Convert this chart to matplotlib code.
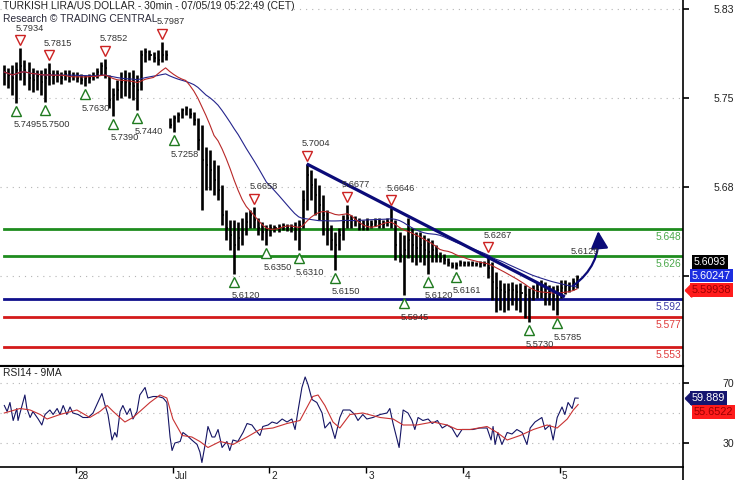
##############
# Librairies #
##############

import numpy as np
import pandas as pd
import matplotlib
matplotlib.use("Agg")
import matplotlib.pyplot as plt
from matplotlib.transforms import blended_transform_factory, ScaledTranslation
from matplotlib.patches import FancyArrowPatch
from matplotlib.lines import Line2D
from matplotlib.path import Path

plt.rcParams['font.family'] = ['Liberation Sans', 'DejaVu Sans']


########
# Data #
########
# 1 bar = 1 hour, index 0 = first bar on the chart (27/06 morning)
high = [
    5.7800, 5.7776, 5.7800, 5.7824, 5.7934, 5.7840, 5.7824, 5.7776, 5.7760, 5.7760,
    5.7776, 5.7815, 5.7760, 5.7760, 5.7744, 5.7760, 5.7760, 5.7744, 5.7744, 5.7728,
    5.7720, 5.7728, 5.7744, 5.7776, 5.7824, 5.7852, 5.7720, 5.7615, 5.7680, 5.7744,
    5.7760, 5.7744, 5.7760, 5.7720, 5.7921, 5.7937, 5.7921, 5.7905, 5.7921, 5.7987,
    5.7921, 5.7374, 5.7398, 5.7422, 5.7454, 5.7470, 5.7454, 5.7422, 5.7374, 5.7317,
    5.7140, 5.7116, 5.7035, 5.6995, 5.6834, 5.6633, 5.6552, 5.6552, 5.6536, 5.6569,
    5.6617, 5.6633, 5.6658, 5.6569, 5.6536, 5.6512, 5.6520, 5.6512, 5.6520, 5.6528,
    5.6520, 5.6520, 5.6536, 5.6552, 5.6794, 5.7004, 5.6955, 5.6891, 5.6834, 5.6754,
    5.6633, 5.6512, 5.6456, 5.6488, 5.6593, 5.6677, 5.6593, 5.6585, 5.6569, 5.6552,
    5.6569, 5.6552, 5.6569, 5.6569, 5.6552, 5.6569, 5.6646, 5.6552, 5.6456, 5.6432,
    5.6569, 5.6488, 5.6456, 5.6456, 5.6432, 5.6408, 5.6391, 5.6351, 5.6295, 5.6279,
    5.6247, 5.6214, 5.6214, 5.6230, 5.6222, 5.6222, 5.6222, 5.6214, 5.6222, 5.6222,
    5.6267, 5.6214, 5.6134, 5.6069, 5.6045, 5.6045, 5.6053, 5.6037, 5.6045, 5.6029,
    5.6005, 5.6029, 5.6053, 5.6069, 5.6053, 5.6029, 5.6021, 5.6029, 5.6069, 5.6069,
    5.6053, 5.6086, 5.6110,
]
low = [
    5.7639, 5.7615, 5.7559, 5.7495, 5.7680, 5.7639, 5.7599, 5.7583, 5.7599, 5.7559,
    5.7500, 5.7639, 5.7647, 5.7663, 5.7647, 5.7680, 5.7663, 5.7680, 5.7663, 5.7647,
    5.7630, 5.7655, 5.7680, 5.7696, 5.7720, 5.7696, 5.7454, 5.7390, 5.7518, 5.7535,
    5.7551, 5.7535, 5.7518, 5.7440, 5.7599, 5.7824, 5.7840, 5.7824, 5.7800, 5.7824,
    5.7840, 5.7293, 5.7258, 5.7341, 5.7374, 5.7398, 5.7374, 5.7317, 5.7116, 5.6633,
    5.6794, 5.6794, 5.6754, 5.6713, 5.6512, 5.6391, 5.6311, 5.6120, 5.6311, 5.6351,
    5.6432, 5.6488, 5.6488, 5.6432, 5.6391, 5.6350, 5.6424, 5.6456, 5.6456, 5.6472,
    5.6464, 5.6456, 5.6391, 5.6310, 5.6488, 5.6633, 5.6713, 5.6593, 5.6552, 5.6432,
    5.6351, 5.6311, 5.6150, 5.6311, 5.6391, 5.6488, 5.6488, 5.6504, 5.6472, 5.6472,
    5.6472, 5.6488, 5.6504, 5.6488, 5.6488, 5.6504, 5.6488, 5.6230, 5.6214, 5.5945,
    5.6247, 5.6214, 5.6190, 5.6214, 5.6190, 5.6120, 5.6214, 5.6214, 5.6214, 5.6198,
    5.6182, 5.6166, 5.6161, 5.6182, 5.6182, 5.6182, 5.6182, 5.6182, 5.6174, 5.6182,
    5.6086, 5.5908, 5.5812, 5.5828, 5.5812, 5.5828, 5.5868, 5.5828, 5.5812, 5.5764,
    5.5730, 5.5908, 5.5924, 5.5924, 5.5868, 5.5868, 5.5828, 5.5785, 5.5924, 5.5957,
    5.5973, 5.5989, 5.6005,
]
close = [
    5.7744, 5.7720, 5.7696, 5.7760, 5.7792, 5.7760, 5.7696, 5.7680, 5.7712, 5.7663,
    5.7696, 5.7728, 5.7712, 5.7728, 5.7696, 5.7728, 5.7712, 5.7712, 5.7696, 5.7680,
    5.7696, 5.7696, 5.7712, 5.7744, 5.7792, 5.7776, 5.7518, 5.7559, 5.7599, 5.7663,
    5.7663, 5.7647, 5.7631, 5.7599, 5.7881, 5.7905, 5.7881, 5.7857, 5.7840, 5.7881,
    5.7881, 5.7317, 5.7374, 5.7398, 5.7438, 5.7454, 5.7406, 5.7357, 5.7196, 5.7035,
    5.6995, 5.6955, 5.6875, 5.6794, 5.6593, 5.6488, 5.6432, 5.6351, 5.6408, 5.6472,
    5.6536, 5.6593, 5.6552, 5.6488, 5.6456, 5.6472, 5.6488, 5.6488, 5.6496, 5.6504,
    5.6496, 5.6488, 5.6472, 5.6512, 5.6713, 5.6915, 5.6834, 5.6754, 5.6673, 5.6593,
    5.6472, 5.6391, 5.6351, 5.6432, 5.6536, 5.6569, 5.6552, 5.6552, 5.6520, 5.6512,
    5.6520, 5.6520, 5.6536, 5.6520, 5.6520, 5.6536, 5.6552, 5.6351, 5.6271, 5.6311,
    5.6391, 5.6351, 5.6327, 5.6351, 5.6311, 5.6295, 5.6311, 5.6271, 5.6247, 5.6230,
    5.6206, 5.6182, 5.6190, 5.6206, 5.6206, 5.6198, 5.6206, 5.6198, 5.6206, 5.6198,
    5.6166, 5.6053, 5.6005, 5.5989, 5.5973, 5.5989, 5.5989, 5.5973, 5.5965, 5.5949,
    5.5924, 5.5965, 5.5989, 5.5973, 5.5965, 5.5957, 5.5941, 5.5989, 5.6005, 5.6021,
    5.6021, 5.6053, 5.6093,
]

# pivots (hour index, price)
top_h = [4, 11, 25, 39, 62, 75, 85, 96, 120]
top_p = [5.7934, 5.7815, 5.7852, 5.7987, 5.6658, 5.7004, 5.6677, 5.6646, 5.6267]
bot_h = [3, 10, 20, 27, 33, 42, 57, 65, 73, 82, 99, 105, 112, 130, 137]
bot_p = [5.7495, 5.7500, 5.7630, 5.7390, 5.7440, 5.7258, 5.6120, 5.6350, 5.6310,
         5.6150, 5.5945, 5.6120, 5.6161, 5.5730, 5.5785]

# support / resistance
levels = [5.648, 5.626, 5.592, 5.577, 5.553]
level_col = ['#1e8c1e', '#1e8c1e', '#10108c', '#d41a1a', '#d41a1a']
level_txt = ['#4aa84a', '#4aa84a', '#3c3ca8', '#e03c3c', '#e03c3c']

# trend line and target
trend_h = [75, 139]
trend_p = [5.7004, 5.5933]
arrow_start = (140.5, 5.6010)
arrow_end = (147.2, 5.6485)
target_lbl = 5.6129
target_pos = (140.5, 5.6295)

# last values (right boxes)
last_price = 5.6093
ma_blue_last = 5.60247
ma_red_last = 5.59938
rsi_last = 59.889
rsi_ma_last = 55.6522

# RSI14 and its 9MA (hour index, value)
rsi_h = [0, 0.7, 1.4, 2.2, 3.1, 3.4, 4.4, 5.1, 5.6, 6.4,
         7.1, 8.4, 9.3, 10.1, 11.3, 12.1, 13.1, 13.8, 14.6, 15.5,
         16.3, 17.0, 18.3, 19.5, 20.8, 22.0, 23.2, 24.2, 25.0, 25.7,
         26.7, 27.4, 27.9, 28.7, 29.4, 30.4, 31.2, 31.9, 32.9, 33.6,
         34.9, 35.6, 36.9, 38.1, 39.4, 40.3, 41.1, 41.6, 42.3, 43.6,
         44.3, 45.3, 46.5, 47.8, 48.5, 49.0, 49.8, 50.5, 51.5, 52.2,
         53.0, 54.0, 55.2, 55.9, 56.7, 57.9, 59.2, 60.2, 61.4, 62.2,
         63.4, 64.1, 65.4, 66.4, 67.6, 68.9, 70.1, 71.3, 72.1, 72.8,
         73.8, 74.6, 75.3, 76.3, 77.5, 78.8, 79.5, 80.8, 82.0, 83.2,
         84.0, 85.7, 86.9, 87.7, 88.9, 89.9, 91.4, 93.2, 94.9, 95.6,
         96.4, 97.9, 98.9, 100.1, 101.1, 101.8, 102.6, 103.8, 105.1, 106.1,
         107.4, 108.6, 109.8, 111.0, 112.3, 113.5, 114.7, 116.2, 117.9, 119.7,
         120.7, 121.2, 121.7, 122.4, 123.4, 124.7, 125.9, 127.1, 128.4, 129.6,
         130.4, 131.6, 133.3, 134.1, 135.3, 136.1, 137.1, 138.3, 139.0, 139.8,
         140.8, 141.5, 142.3]
rsi_val = [55, 51, 57, 45, 53, 45, 55, 62, 53, 47,
           51, 46, 42, 49, 52, 49, 53, 49, 55, 49,
           54, 50, 49, 47, 47, 50, 57, 63, 55, 49,
           32, 37, 34, 51, 55, 49, 53, 46, 51, 62,
           67, 60, 61, 61, 60, 57, 34, 25, 30, 31,
           37, 35, 32, 29, 24, 17, 29, 41, 34, 34,
           39, 27, 31, 25, 32, 31, 37, 43, 42, 39,
           35, 41, 42, 44, 43, 46, 44, 46, 39, 51,
           67, 74, 69, 59, 57, 50, 40, 44, 33, 47,
           52, 52, 49, 45, 49, 46, 47, 49, 50, 53,
           43, 27, 52, 50, 45, 39, 47, 45, 46, 43,
           45, 40, 42, 40, 34, 39, 39, 39, 40, 40,
           32, 41, 29, 37, 29, 37, 36, 39, 37, 29,
           40, 44, 47, 39, 42, 32, 47, 54, 49, 57,
           53, 60, 59.889]
rsi_ma_h = [0, 3.9, 6.4, 8.9, 10.6, 13.8, 18.0, 21.2, 23.7, 25.5,
            27.0, 29.9, 31.9, 33.6, 36.1, 38.6, 40.3, 41.8, 44.1, 46.5,
            48.5, 50.5, 53.5, 56.7, 60.2, 63.4, 66.6, 70.1, 73.3, 76.5,
            77.8, 79.5, 81.5, 83.2, 85.7, 88.9, 93.2, 96.4, 98.9, 102.3,
            106.3, 109.8, 112.3, 115.5, 119.7, 122.2, 124.7, 127.9, 131.2, 134.6,
            137.1, 139.6, 141.1, 142.3]
rsi_ma_val = [50, 53, 52, 49, 46, 49, 52, 47, 51, 55,
              51, 44, 47, 51, 57, 62, 60, 46, 35, 34,
              31, 27, 31, 29, 34, 39, 40, 43, 45, 61,
              62, 55, 44, 40, 49, 50, 47, 46, 42, 42,
              44, 42, 39, 39, 41, 37, 32, 35, 39, 42,
              40, 46, 52, 55.6522]

# axes
day_h = [17.75, 41.75, 65.75, 89.75, 113.75, 137.75]
day_lbl = ['28', 'Jul', '2', '3', '4', '5']
price_ticks = [5.8252, 5.7535, 5.6818, 5.6101]
price_lbl = ['5.83', '5.75', '5.68', '']
rsi_ticks = [30, 70]
rsi_grid = [30, 50, 70]

# Traitements
hours = np.arange(len(close))
ma_red = pd.Series(close).rolling(12, min_periods=1).mean()
ma_blue = pd.Series(close).rolling(25, min_periods=1).mean()


##########
# Figure #
##########
fig = plt.figure(figsize=(7.35, 4.8), dpi=100)
W, H = 735.0, 480.0
ax = fig.add_axes([0, 1 - 366 / H, 683 / W, 366 / H])
ax2 = fig.add_axes([0, 13 / H, 683 / W, 101 / H])

xlim = (-1.07, 168.3)
for a in (ax, ax2):
    a.set_xlim(*xlim)
    a.spines['left'].set_visible(False)
    a.set_facecolor('white')
ax.set_ylim(5.53769, 5.83238)
ax2.set_ylim(14, 81.33)

def px(dx, dy):
    return ScaledTranslation(dx / 100, dy / 100, fig.dpi_scale_trans)

# --- main panel ---
for y in price_ticks:
    ax.axhline(y, color='#b4b4b4', lw=0.8, ls=(0, (1, 4.5)), zorder=0)

ax.vlines(hours, low, high, color='black', lw=1.9, zorder=3)
ax.hlines(close, hours, hours + 0.5, color='black', lw=1.2, zorder=3)

ax.plot(hours, ma_blue, color='#24248c', lw=0.8, zorder=4)
ax.plot(hours, ma_red, color='#b82828', lw=0.8, zorder=4)

for lv, c, tc in zip(levels, level_col, level_txt):
    ax.axhline(lv, xmin=0.006, color=c, lw=2.0, zorder=2)
    ax.text(0.997, lv, f"{lv:.3f}", color=tc, fontsize=7.4, ha='right', va='center',
            transform=blended_transform_factory(ax.transAxes, ax.transData) + px(0, -8))

ax.plot(trend_h, trend_p, color='#0b0b78', lw=2.3, solid_capstyle='butt', zorder=5)
ax.add_patch(FancyArrowPatch(arrow_start, arrow_end, connectionstyle='arc3,rad=0.3',
                             arrowstyle='-|>,head_length=0.75,head_width=0.38',
                             mutation_scale=14, lw=1.6, color='#0b0b78', zorder=6))
ax.text(*target_pos, f"{target_lbl:.4f}", fontsize=6.7, color='#333333',
        ha='left', va='center', zorder=7)

# pivots
ax.plot(top_h, top_p, ls='none', marker='v', ms=7, mfc='white', mec='#cc2222', mew=1,
        transform=ax.transData + px(0, 8), zorder=6)
ax.plot(bot_h, bot_p, ls='none', marker='^', ms=7, mfc='white', mec='#1f7a1f', mew=1,
        transform=ax.transData + px(0, -8), zorder=6)
for h, p in zip(top_h, top_p):
    ax.text(h, p, f"{p:.4f}", fontsize=6.7, color='#333333', ha='left', va='center',
            transform=ax.transData + px(-5, 20), zorder=7)
for h, p in zip(bot_h, bot_p):
    ax.text(h, p, f"{p:.4f}", fontsize=6.7, color='#333333', ha='left', va='center',
            transform=ax.transData + px(-3, -22), zorder=7)

ax.text(3 / 683, 1 - 6 / 366, "TURKISH LIRA/US DOLLAR - 30min - 07/05/19 05:22:49 (CET)",
        transform=ax.transAxes, fontsize=7.4, color='#222222', ha='left', va='center')
ax.text(3 / 683, 1 - 19 / 366, "Research \u00a9 TRADING CENTRAL",
        transform=ax.transAxes, fontsize=7.4, color='#2a2a3a', ha='left', va='center')

# right price boxes
tr = blended_transform_factory(ax.transAxes, ax.transData)
ptr = Path([(-0.5, 0), (0.5, -1), (0.5, 1), (-0.5, 0)])
ax.text(694 / 683, last_price, f"{last_price:.4f}", color='white', fontsize=7.6,
        ha='left', va='center', transform=tr + px(0, 15), clip_on=False,
        bbox=dict(boxstyle='square,pad=0.18', fc='black', ec='none'))
ax.text(692 / 683, ma_blue_last, f"{ma_blue_last:.5f}", color='white', fontsize=7.8,
        ha='left', va='center', transform=tr + px(0, 10), clip_on=False,
        bbox=dict(boxstyle='square,pad=0.18', fc='#1c2ee0', ec='none'))
ax.text(692 / 683, ma_red_last, f"{ma_red_last:.5f}", color='#9a0000', fontsize=7.8,
        ha='left', va='center', transform=tr + px(0, -1), clip_on=False,
        bbox=dict(boxstyle='square,pad=0.18', fc='#ff1c1c', ec='none'))
ax.plot([687.5 / 683], [ma_red_last], marker=ptr, ms=9.5, color='#ff1c1c', ls='none',
        transform=tr + px(0, -1), clip_on=False)

ax.set_yticks(price_ticks)
ax.set_yticklabels(price_lbl)
ax.yaxis.tick_right()
ax.tick_params(axis='y', direction='out', length=4, width=1.2, pad=33, labelsize=7.6,
               labelcolor='#222222')
for lab in ax.get_yticklabels():
    lab.set_horizontalalignment('right')
ax.tick_params(axis='x', bottom=False, labelbottom=False)
ax.spines['top'].set_visible(False)
ax.spines['right'].set_linewidth(1.2)
ax.spines['bottom'].set_linewidth(1.5)

# --- RSI panel ---
for y in rsi_grid:
    ax2.axhline(y, color='#b4b4b4', lw=0.8, ls=(0, (1, 4.5)), zorder=0)
ax2.plot(rsi_h, rsi_val, color='#141464', lw=0.8)
ax2.plot(rsi_ma_h, rsi_ma_val, color='#c83232', lw=0.8)
ax2.text(3 / 683, 1 - 7 / 101, "RSI14 - 9MA", transform=ax2.transAxes, fontsize=7.4,
         color='#222222', ha='left', va='center')

tr2 = blended_transform_factory(ax2.transAxes, ax2.transData)
ax2.text(692 / 683, rsi_last, f"{rsi_last:.3f}", color='white', fontsize=7.8,
         ha='left', va='center', transform=tr2, clip_on=False,
         bbox=dict(boxstyle='square,pad=0.18', fc='#151570', ec='none'))
ax2.plot([687.5 / 683], [rsi_last], marker=ptr, ms=9.5, color='#151570', ls='none',
         transform=tr2, clip_on=False)
ax2.text(694 / 683, rsi_ma_last, f"{rsi_ma_last:.4f}", color='#9a0000', fontsize=7.8,
         ha='left', va='center', transform=tr2 + px(0, -7.5), clip_on=False,
         bbox=dict(boxstyle='square,pad=0.18', fc='#ff1c1c', ec='none'))

ax2.set_yticks(rsi_ticks)
ax2.yaxis.tick_right()
ax2.tick_params(axis='y', direction='out', length=4, width=1.2, pad=33, labelsize=7.6,
                labelcolor='#222222')
for lab in ax2.get_yticklabels():
    lab.set_horizontalalignment('right')

ax2.set_xticks(day_h)
ax2.set_xticklabels(day_lbl)
ax2.tick_params(axis='x', direction='out', length=4, width=1.0, pad=0, labelsize=7.2,
                labelcolor='#222222')
for lab in ax2.get_xticklabels():
    lab.set_horizontalalignment('left')
    lab.set_verticalalignment('center')
    lab.set_transform(lab.get_transform() + px(2, -3))
ax2.spines['top'].set_linewidth(1.5)
ax2.spines['bottom'].set_linewidth(1.2)
ax2.spines['right'].set_linewidth(1.2)

fig.add_artist(Line2D([683 / W, 683 / W], [0, 13 / H], transform=fig.transFigure,
                      color='black', lw=1.2))

fig.savefig("out.png", dpi=100)
